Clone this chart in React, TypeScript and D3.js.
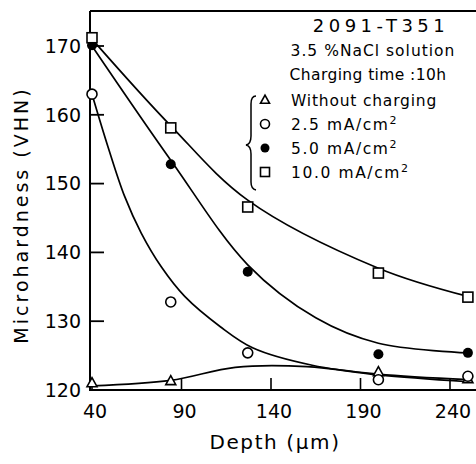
import React from "react";
import * as d3 from "d3";

// measured points (depth in um, microhardness VHN)
const withoutCharging = [
  [40, 121], [84, 121.3], [200, 122.6], [250, 121.6],
];
const charge25 = [
  [40, 163], [84, 132.8], [127, 125.4], [200, 121.5], [250, 122],
];
const charge50 = [
  [40, 170.1], [84, 152.8], [127, 137.2], [200, 125.2], [250, 125.4],
];
const charge100 = [
  [40, 171.2], [84, 158.1], [127, 146.6], [200, 137], [250, 133.5],
];

// hand-drawn trend curves
const fitWithout = [
  [40, 120.6], [84, 121.4], [120, 123.3], [160, 123.4], [200, 122.2], [250, 121.2],
];
const fit25 = [
  [40, 163], [49, 155.3], [58.3, 148.1], [67.5, 142.8], [78.7, 137.9], [91.8, 133.6],
  [111.7, 129.2], [130, 126.1], [163, 123.6], [200, 122.3], [250, 121.5],
];
const fit50 = [
  [40, 170], [84, 153.4], [127, 138.2], [165, 130.5], [200, 126.8], [250, 125.4],
];
const fit100 = [
  [40, 171], [84, 158.4], [127, 147.6], [200, 137.7], [250, 133.6],
];

const xTicks = [40, 90, 140, 190, 240];
const yTicks = [120, 130, 140, 150, 160, 170];

const legendItems = [
  { kind: "tri", label: "Without charging", sup: "" },
  { kind: "circ", label: "2.5 mA/cm", sup: "2" },
  { kind: "dot", label: "5.0 mA/cm", sup: "2" },
  { kind: "sq", label: "10.0 mA/cm", sup: "2" },
];

const W = 476;
const H = 464;
const FONT = "'DejaVu Sans', sans-serif";

const x = d3.scaleLinear().domain([40, 240]).range([92, 450]);
const y = d3.scaleLinear().domain([120, 170]).range([390, 46]);

const line = d3
  .line<number[]>()
  .x((d) => x(d[0]))
  .y((d) => y(d[1]))
  .curve(d3.curveCatmullRom.alpha(0.5));

const Marker = ({ kind, cx, cy, s }: { kind: string; cx: number; cy: number; s: number }) => {
  if (kind === "tri") {
    const h = s * 0.9;
    return (
      <path
        d={`M${cx},${cy - h * 0.6}L${cx + s / 2},${cy + h * 0.4}L${cx - s / 2},${cy + h * 0.4}Z`}
        fill="#fff"
        stroke="#000"
        strokeWidth={1.6}
      />
    );
  }
  if (kind === "circ")
    return <circle cx={cx} cy={cy} r={s / 2} fill="#fff" stroke="#000" strokeWidth={1.6} />;
  if (kind === "dot") return <circle cx={cx} cy={cy} r={s / 2} fill="#000" />;
  return (
    <rect x={cx - s / 2} y={cy - s / 2} width={s} height={s} fill="#fff" stroke="#000" strokeWidth={1.6} />
  );
};

const App = () => {
  const series = [
    { kind: "tri", pts: withoutCharging },
    { kind: "circ", pts: charge25 },
    { kind: "dot", pts: charge50 },
    { kind: "sq", pts: charge100 },
  ];
  const fits = [fitWithout, fit25, fit50, fit100];

  return (
    <svg
      width={W}
      height={H}
      style={{ position: "absolute", left: 0, top: 0, background: "#fff" }}
      fontFamily={FONT}
    >
      {/* frame */}
      <line x1={90} x2={W} y1={11} y2={11} stroke="#000" strokeWidth={2} />
      <line x1={90} x2={90} y1={11} y2={391} stroke="#000" strokeWidth={2} />
      <line x1={89} x2={W} y1={390} y2={390} stroke="#000" strokeWidth={2} />

      {/* y ticks */}
      {yTicks.map((t) => (
        <g key={t}>
          <line x1={90} x2={104} y1={y(t)} y2={y(t)} stroke="#000" strokeWidth={1.8} />
          <text x={81} y={y(t)} dy="0.36em" textAnchor="end" fontSize={19}>
            {t}
          </text>
        </g>
      ))}

      {/* x ticks */}
      {xTicks.map((t) => (
        <g key={t}>
          <line x1={x(t)} x2={x(t)} y1={390} y2={378} stroke="#000" strokeWidth={1.6} />
          <text x={x(t) + 3} y={418} textAnchor="middle" fontSize={19}>
            {t}
          </text>
        </g>
      ))}

      {/* curves */}
      {fits.map((f, i) => (
        <path key={i} d={line(f) || ""} fill="none" stroke="#000" strokeWidth={1.7} />
      ))}

      {/* points */}
      {series.map((s) =>
        s.pts.map((p, i) => (
          <Marker key={s.kind + i} kind={s.kind} cx={x(p[0])} cy={y(p[1])} s={10} />
        ))
      )}

      {/* axis titles */}
      <text x={275} y={449} textAnchor="middle" fontSize={20} letterSpacing={1.6}>
        Depth (μm)
      </text>
      <text
        transform="translate(28,215) rotate(-90)"
        textAnchor="middle"
        fontSize={19}
        letterSpacing={3}
      >
        Microhardness (VHN)
      </text>

      {/* annotation block */}
      <text x={381} y={32} textAnchor="middle" fontSize={18} letterSpacing={4.5}>
        2091-T351
      </text>
      <text x={373} y={56} textAnchor="middle" fontSize={15.5} letterSpacing={1}>
        3.5 %NaCl solution
      </text>
      <text x={368} y={80} textAnchor="middle" fontSize={15.5} letterSpacing={0.4}>
        Charging time :10h
      </text>
      <path
        d="M256,96 Q251,96 251,104 L251,136 Q251,144 246,145 Q251,146 251,154 L251,182 Q251,189 256,190"
        fill="none"
        stroke="#000"
        strokeWidth={1.5}
      />
      {legendItems.map((d, i) => {
        const cy = 100 + i * 24;
        return (
          <g key={d.kind}>
            <Marker kind={d.kind} cx={265} cy={cy} s={9} />
            <text x={291} y={cy} dy="0.36em" fontSize={15.5} letterSpacing={i === 0 ? 0.8 : 1.6}>
              {d.label}
              {d.sup && (
                <tspan dy="-0.5em" fontSize={11}>
                  {d.sup}
                </tspan>
              )}
            </text>
          </g>
        );
      })}
    </svg>
  );
};

export default App;
